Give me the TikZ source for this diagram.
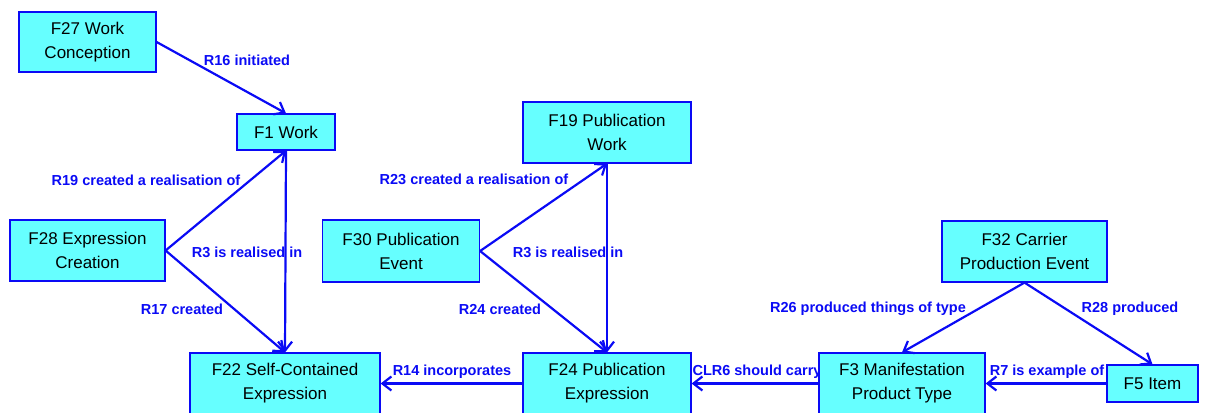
\documentclass[tikz,border=0pt]{standalone}
\usepackage{fontspec}
\setmainfont{Liberation Sans}
\usetikzlibrary{arrows.meta}
\definecolor{boxfill}{RGB}{102,255,255}
\definecolor{edgeblue}{RGB}{10,10,245}
\tikzset{
  cls/.style={draw=edgeblue, line width=1.2pt, fill=boxfill, align=center, inner sep=0pt,
    font=\fontsize{17}{24}\selectfont, text=black},
  rel/.style={draw=edgeblue, line width=2.2pt, -{Straight Barb[length=9pt,width=14pt,line width=2.2pt]}},
  lbl/.style={text=edgeblue, font=\fontsize{14.5}{16}\selectfont\bfseries, inner sep=0pt}
}
\begin{document}
\begin{tikzpicture}[x=1pt,y=-1pt]
\useasboundingbox (0,0) rectangle (1209,412);
% labels
\node[lbl] (l16) at (247,60) {R16 initiated};
\node[lbl] (l19) at (146,180) {R19 created a realisation of};
\node[lbl] (l3a) at (247,252) {R3 is realised in};
\node[lbl] (l17) at (182,309) {R17 created};
\node[lbl] (l23) at (474,179) {R23 created a realisation of};
\node[lbl] (l3b) at (568,252) {R3 is realised in};
\node[lbl] (l24) at (500,309) {R24 created};
\node[lbl] (l14) at (452,372) {R14 incorporates};
\node[lbl] (lc6) at (757,372) {CLR6 should carry};
\node[lbl] (l26) at (868,309) {R26 produced things of type};
\node[lbl] (l28) at (1130,309) {R28 produced};
\node[lbl] (l7) at (1047,372) {R7 is example of};
% classes
\node[cls, minimum width=137pt, minimum height=60pt] (f27) at (87.5,42) {F27 Work\\Conception};
\node[cls, minimum width=98pt, minimum height=36pt] (f1) at (286,132) {F1 Work};
\node[cls, minimum width=155pt, minimum height=61pt] (f28) at (87.5,250.5) {F28 Expression\\Creation};
\node[cls, minimum width=190pt, minimum height=61pt] (f22) at (285,383.5) {F22 Self-Contained\\Expression};
\node[cls, minimum width=157pt, minimum height=62pt] (f30) at (401,251) {F30 Publication\\Event};
\node[cls, minimum width=168pt, minimum height=61pt] (f19) at (607,132.5) {F19 Publication\\Work};
\node[cls, minimum width=168pt, minimum height=61pt] (f24) at (607,383.5) {F24 Publication\\Expression};
\node[cls, minimum width=166pt, minimum height=61pt] (f3) at (902,383.5) {F3 Manifestation\\Product Type};
\node[cls, minimum width=165pt, minimum height=61pt] (f32) at (1024.5,251.5) {F32 Carrier\\Production Event};
\node[cls, minimum width=91pt, minimum height=37pt] (f5) at (1152.5,383.5) {F5 Item};
% relations
\draw[rel] (f27.east) -- (f1.north);
\draw[rel] (f28.east) -- (f1.south);
\draw[rel] (f28.east) -- (f22.north);
\draw[rel] (f1.south) -- (f22.north);
\draw[rel] (f30.east) -- (f19.south);
\draw[rel] (f30.east) -- (f24.north);
\draw[rel] (f19.south) -- (f24.north);
\draw[rel] (f24.west) -- (f22.east);
\draw[rel] (f3.west) -- (f24.east);
\draw[rel] (f32.south) -- (f3.north);
\draw[rel] (f32.south) -- (f5.north);
\draw[rel] (f5.west) -- (f3.east);
\end{tikzpicture}
\end{document}
